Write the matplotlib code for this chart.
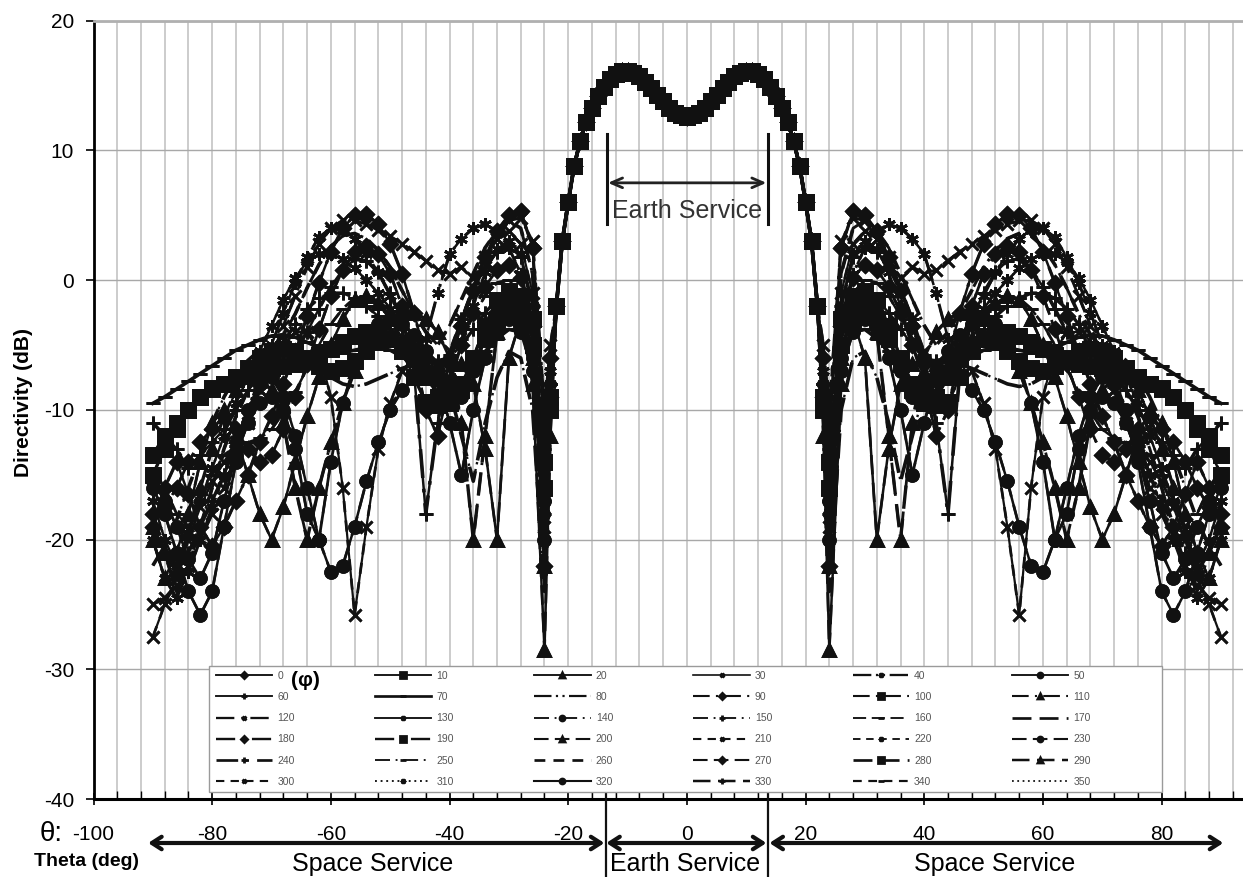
import numpy as np
import matplotlib
matplotlib.use('Agg')
import matplotlib.pyplot as plt
import matplotlib.transforms as mtrans
from matplotlib.patches import Rectangle

plt.rcParams['font.family'] = ['Liberation Sans', 'DejaVu Sans']
plt.rcParams['axes.unicode_minus'] = False

W, H = 1243, 877

# main beam, common to every phi cut (theta = 0..22 deg, 1 deg step)
beam_theta = list(range(0, 23))
beam_db = [12.6, 12.7, 12.9, 13.3, 13.8, 14.3, 14.8, 15.3, 15.7, 16.0, 16.1, 16.1,
           15.9, 15.5, 14.9, 14.2, 13.3, 12.2, 10.7, 8.8, 6.0, 3.0, -2.0]

# sidelobe region (theta = 23, 24, 26 ... 90 deg); cut phi+180 is the mirror of cut phi
side_theta = [23] + list(range(24, 91, 2))

cut_000 = [-6, -12, 2.5, 5.3, 5.0, 3.8, 1.8, -0.8, -3.5, -6.5, -9.5, -6, -2.5, 0.5, 2.8, 4.3, 5.1, 5.0,
           4.0, 2.2, -0.2, -2.8, -5.5, -8.0, -10.5, -12.5, -15, -17, -19, -20.5, -19, -16.5, -14, -16, -19]
cut_010 = [-10, -16, -3.0, -1.2, -0.8, -1.5, -3.5, -6.0, -8.0, -9.0, -9.6, -9.4, -7.5, -5.5, -4.5, -4.0, -4.0, -4.3,
           -4.8, -5.3, -5.8, -6.2, -6.5, -6.6, -6.8, -7.0, -7.3, -7.6, -8.0, -8.4, -9.0, -10.0, -11.5, -13.0, -15.0]
cut_020 = [-12, -28.5, -8, -3, -6, -20, -13, -8, -6.5, -6.0, -6.5, -7.5, -6, -4.5, -3, -1.8, -1.2, -1.5,
           -3.0, -5.0, -7.5, -10.5, -14, -17.5, -20, -18, -15, -12, -10, -11, -14, -18, -21, -23, -20]
cut_030 = [-9, -19, -1, 2.8, 3.8, 3.2, 1.8, -0.5, -3.0, -5.5, -7.5, -6.5, -6.0, -7.0, -9.5, -13, -19, -25.8,
           -16, -9, -5.5, -4.0, -4.0, -5.0, -6.5, -8.5, -10.5, -12.5, -14, -15.5, -17.5, -20, -23, -25, -27.5]
cut_040 = [-7, -16, -3, 0.5, 2.5, 3.8, 4.3, 4.0, 3.2, 2.0, -1.0, -4.5, -4.5, -3.0, -1.2, 0.6, 2.0, 3.2,
           3.9, 4.0, 3.3, 1.8, -0.2, -2.5, -5.0, -7.5, -10, -12.5, -15, -17.5, -20, -22.5, -24.5, -23, -20]
cut_050 = [-9, -20, -6, -2.0, -1.5, -2.5, -4.5, -7.0, -9.0, -8.5, -7.5, -7.0, -7.5, -8.5, -10, -12.5, -15.5, -19,
           -22, -22.5, -20, -16, -12, -9, -7.5, -8, -10, -14, -19, -24, -25.8, -24, -21, -18, -16]
cut_060 = [-8, -18, -2, 1.8, 2.6, 2.2, 1.0, -0.8, -3.0, -6, -11, -18, -7, -3, -1, 0.6, 1.5, 1.6,
           0.8, -0.5, -2.2, -4.0, -5.5, -6.5, -7.0, -7.5, -8.5, -10, -11.5, -12.5, -13.5, -14.5, -13, -12, -11]
cut_070 = [-9, -17, -5.5, -4.0, -3.8, -4.5, -5.5, -7.0, -8.5, -9.0, -8.6, -7.6, -6.6, -5.9, -5.4, -5.2, -5.2, -5.4,
           -5.6, -5.6, -5.2, -4.8, -4.4, -4.2, -4.3, -4.6, -5.0, -5.4, -6.0, -6.6, -7.2, -7.8, -8.4, -9.0, -9.5]
cut_080 = [-7, -15, 0.5, 4.0, 4.6, 3.8, 2.5, 0.5, -1.5, -3.5, -5.0, -4.0, -2.5, -0.8, 1.0, 2.3, 3.2, 3.6,
           3.4, 2.6, 1.2, -0.6, -2.6, -4.2, -5.5, -7, -8.5, -10.5, -13, -16, -19, -22, -24, -21, -18]
cut_090 = [-9, -22, -3.5, 0.2, 1.2, 0.8, -0.5, -2.5, -5.0, -8, -12, -10, -5.5, -2.0, 0.5, 2.0, 2.6, 2.2,
           0.8, -1.2, -3.8, -6.5, -9, -11.5, -13.5, -14, -13, -11.5, -10.5, -11.5, -12.5, -14, -16, -17.5, -18]
cut_100 = [-9, -14, -5, -3.0, -2.5, -3.0, -4.5, -6.5, -8.5, -9.5, -9.0, -7.5, -6.0, -5.0, -4.5, -4.8, -5.5, -6.2,
           -6.8, -7.0, -6.6, -6.0, -5.5, -5.3, -5.5, -6.0, -6.8, -7.5, -8.0, -8.3, -9.0, -10.0, -11.0, -12.0, -13.5]
cut_110 = [-10, -22, -6, -1.5, -1.0, -4, -12, -20, -11, -6, -4.0, -3.0, -2.5, -2.2, -2.5, -3.5, -5.0, -7.0,
           -9.5, -12.5, -16, -20, -16, -11, -8.5, -7.5, -7.5, -8.5, -10.5, -13, -16, -19.5, -22.5, -21, -19]
cut_120 = [-5, -10, 3.0, 4.8, 4.6, 3.2, 1.5, 0.2, 1.0, 0.5, 0.8, 1.5, 2.2, 2.8, 3.4, 3.9, 4.3, 4.6,
           4.6, 4.0, 2.8, 1.0, -1.2, -3.5, -6.0, -8.5, -11, -13.5, -16, -18, -20, -22, -23.5, -24.5, -25]
cut_130 = [-8, -18, -2, 2.0, 3.0, 2.4, 0.6, -2.0, -5.0, -7.5, -8.0, -6.5, -5.0, -3.5, -2.2, -1.0, 0.0, 0.9,
           1.6, 2.0, 2.0, 1.4, 0.2, -1.5, -3.5, -5.5, -7.5, -9.5, -12, -14.5, -17, -19.5, -22, -20, -17]
cut_140 = [-9, -17, -7, -4.0, -3.0, -3.8, -6.0, -10, -15, -11, -7.5, -5.5, -4.2, -3.4, -3.0, -3.4, -4.5, -6.5,
           -9.5, -14, -20, -18, -13, -10, -9, -9.5, -11, -13.5, -17, -21, -23, -21.5, -19, -17, -15.5]
cut_150 = [-8, -14, -4.5, -2.0, -1.2, -1.5, -2.5, -3.8, -5.0, -6.0, -6.2, -6.0, -5.5, -4.8, -3.8, -2.8, -2.0, -1.4,
           -1.0, -1.0, -1.4, -2.2, -3.4, -4.8, -6.4, -8.2, -10.2, -12.5, -15, -17, -19, -21, -22.5, -21, -19]
cut_160 = [-8, -13, -3.5, -1.0, 0.0, -0.2, -1.2, -2.8, -4.5, -5.8, -6.4, -6.2, -5.0, -3.6, -2.4, -1.6, -1.2, -1.4,
           -2.2, -3.4, -5.0, -6.8, -8.6, -10.2, -11.5, -12.2, -12.5, -12.8, -13.5, -15, -17, -19, -18, -16, -14.5]
cut_170 = [-10, -24, -10, -6, -5.5, -7.5, -11, -15.5, -12, -8.5, -7.0, -6.5, -6.5, -6.8, -7.2, -7.6, -8.0, -8.2,
           -8.0, -7.5, -6.8, -6.0, -5.4, -5.0, -5.0, -5.4, -6.2, -7.4, -9.0, -11, -13.5, -16, -18.5, -20.5, -22]

phi_values = list(range(0, 360, 10))
half_cuts = [cut_000, cut_010, cut_020, cut_030, cut_040, cut_050, cut_060, cut_070, cut_080,
             cut_090, cut_100, cut_110, cut_120, cut_130, cut_140, cut_150, cut_160, cut_170]
phi_cut = half_cuts + half_cuts

# line / marker styles per phi
S, LDD, LDOT, LDASH, DASH, DOT = '-', (0, (8, 2, 1, 2, 1, 2)), (0, (8, 3, 1, 3)), (0, (7, 3)), (0, (4, 3)), (0, (1, 2))
line_styles = [S, S, S, S, LDD, S,
               S, S, LDD, LDOT, LDOT, LDOT,
               LDOT, S, LDOT, LDOT, LDASH, LDASH,
               LDOT, LDOT, LDASH, DASH, DASH, LDASH,
               LDOT, LDOT, DASH, LDASH, LDASH, LDASH,
               DASH, DOT, S, LDASH, DASH, DOT]
line_widths = [1.8, 1.8, 1.8, 1.6, 2.2, 1.8,
               1.8, 2.6, 2.1, 2.0, 2.0, 2.0,
               2.2, 1.8, 1.8, 1.8, 1.8, 2.6,
               2.3, 2.3, 2.0, 2.0, 1.8, 2.0,
               2.6, 1.8, 2.6, 2.0, 2.6, 2.4,
               2.0, 1.8, 2.0, 2.4, 2.1, 1.7]
marker_cycle = ['D', 's', '^', 'x', (6, 2, 0), 'o', '+', '_', 'None']
marker_sizes = [7.5, 10, 8.5, 8.5, 9, 8.5, 9.5, 9.5, 0]


def mirrored(side):
    half_t = beam_theta + side_theta
    half_d = beam_db + side
    return [-v for v in half_t[:0:-1]] + half_t, half_d[:0:-1] + half_d


fig = plt.figure(figsize=(W / 100, H / 100), dpi=100)
x0, x1 = 93.5, 93.5 + 200 * 5.934
y0, y1 = 799.0, 20.7
ax = fig.add_axes([x0 / W, 1 - y0 / H, (x1 - x0) / W, (y0 - y1) / H])

handles = []
for i, phi in enumerate(phi_values):
    t, d = mirrored(phi_cut[i])
    k = i % 9
    ln, = ax.plot(t, d, color='#111111', ls=line_styles[i], lw=line_widths[i],
                  marker=marker_cycle[k], ms=marker_sizes[k], mew=2.0,
                  label=str(phi), zorder=3)
    handles.append(ln)

ax.set_xlim(-100, 100)
ax.set_ylim(-40, 20)
ax.set_xticks(np.arange(-100, 81, 20))
ax.set_xticks(np.arange(-100, 101, 4), minor=True)
ax.set_yticks(np.arange(-40, 21, 10))
ax.grid(which='both', axis='x', color='#c8c8c8', lw=1.3, zorder=0)
ax.grid(which='major', axis='y', color='#a8a8a8', lw=1.0, zorder=0)
ax.tick_params(axis='x', which='major', direction='inout', length=9, width=1.2, pad=14, labelsize=15)
ax.tick_params(axis='x', which='minor', direction='in', length=6, width=1.0)
ax.tick_params(axis='y', which='major', direction='out', length=6, width=1.2, pad=8, labelsize=15)
ax.spines['left'].set_linewidth(2.0)
ax.spines['bottom'].set_linewidth(2.2)
ax.spines['top'].set_color('#b0b0b0')
ax.spines['top'].set_linewidth(2.0)
ax.spines['right'].set_visible(False)
ax.set_ylabel('Directivity (dB)', fontsize=15, fontweight='bold')
ax.yaxis.set_label_coords(-0.051, 0.51)

# legend box and entries, laid out row by row (0, 10, 20 ... across)
fig.add_artist(Rectangle((209 / W, 1 - 792 / H), (1162 - 209) / W, (792 - 666) / H,
                         transform=fig.transFigure, facecolor='white', edgecolor='#9a9a9a',
                         lw=1.0, zorder=4))
order = [6 * r + c for c in range(6) for r in range(6)]
leg = fig.legend([handles[j] for j in order], [str(phi_values[j]) for j in order],
                 ncol=6, loc='upper left', bbox_to_anchor=(216 / W, 1 - 671 / H),
                 fontsize=7.5, markerscale=0.42, frameon=False, borderpad=0, borderaxespad=0,
                 handlelength=5.4, handletextpad=0.5, labelspacing=1.07, columnspacing=7.7)
leg.set_zorder(5)
for lh in leg.legend_handles:
    lh.set_linewidth(lh.get_linewidth() * 0.75)
for txt in leg.get_texts():
    txt.set_color('#555555')
fig.text(305 / W, 1 - 681 / H, '(\u03c6)', fontsize=15, fontweight='bold',
         ha='center', va='center', zorder=6)

# service regions below the axis
earth_edge = 13.7
tb = mtrans.blended_transform_factory(ax.transData, fig.transFigure)
for xe, ytop in [(-earth_edge, 780), (earth_edge, 788)]:
    ax.plot([xe, xe], [1 - ytop / H, 0.0], transform=tb, color='#111111', lw=1.6,
            clip_on=False, zorder=7)
arrow = dict(arrowstyle='<->, head_length=0.7, head_width=0.45', lw=3, color='#111111',
             shrinkA=0, shrinkB=0)
for xa, xb in [(-90.8, -13.9), (-13.6, 13.4), (13.9, 90.4)]:
    ax.annotate('', xy=(xb, 1 - 843 / H), xytext=(xa, 1 - 843 / H),
                xycoords=tb, textcoords=tb, arrowprops=arrow)
fig.text(373 / W, 1 - 864 / H, 'Space Service', fontsize=18, ha='center', va='center')
fig.text(995 / W, 1 - 864 / H, 'Space Service', fontsize=18, ha='center', va='center')
ax.text(-0.3, 1 - 864 / H, 'Earth Service', transform=tb, fontsize=18, ha='center', va='center')
fig.text(51 / W, 1 - 834 / H, '\u03b8:', fontsize=20, ha='center', va='center')
fig.text(86 / W, 1 - 862 / H, 'Theta (deg)', fontsize=14, fontweight='bold', ha='center', va='center')

# earth service span over the main beam
for xe in (-13.5, 13.6):
    ax.plot([xe, xe], [4.3, 11.3], color='#111111', lw=2.2, zorder=4)
ax.annotate('', xy=(13.4, 7.5), xytext=(-13.3, 7.5),
            arrowprops=dict(arrowstyle='<->, head_length=0.8, head_width=0.35', lw=2,
                            color='#222222', shrinkA=0, shrinkB=0), zorder=4)
ax.text(0, 5.3, 'Earth Service', fontsize=18, ha='center', va='center', color='#333333', zorder=4)

fig.savefig('out.png', dpi=100)
